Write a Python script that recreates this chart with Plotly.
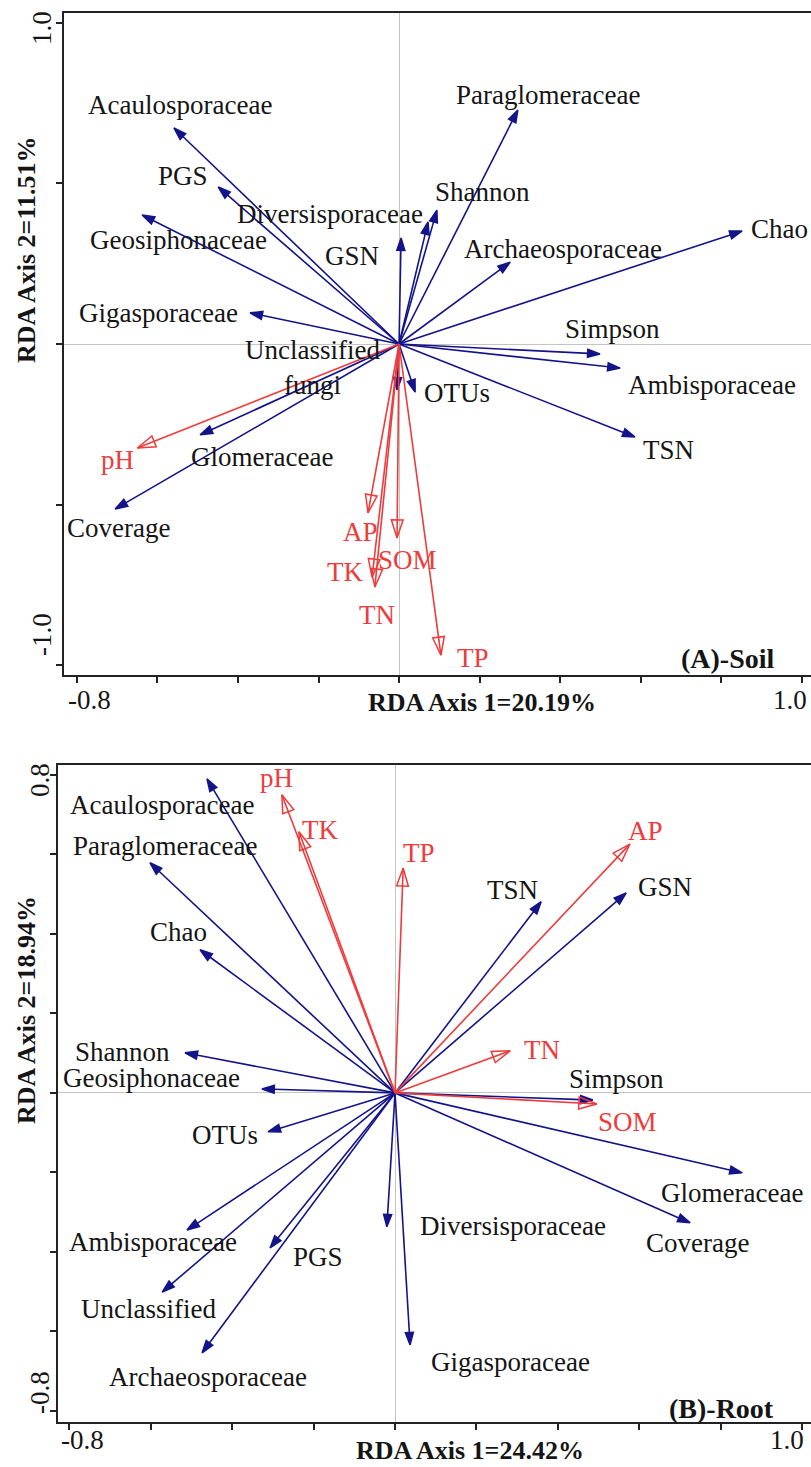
import plotly.graph_objects as go

W, H = 811, 1467
FONT = "Liberation Serif, Times New Roman, serif"
BLUE = "#14148a"
RED = "#ee3b3b"
INK = "#151515"

# ---------------- Panel A (Soil) data ----------------
A_species = ["Acaulosporaceae", "Paraglomeraceae", "PGS", "Geosiphonaceae",
             "Diversisporaceae", "Shannon", "GSN", "Archaeosporaceae", "Chao",
             "Gigasporaceae", "Simpson", "Ambisporaceae", "OTUs",
             "Unclassified<br>fungi", "TSN", "Glomeraceae", "Coverage"]
A_species_x = [-0.559, 0.295, -0.449, -0.638, 0.072, 0.094, 0.005, 0.276, 0.852,
               -0.370, 0.499, 0.549, 0.040, -0.005, 0.586, -0.494, -0.705]
A_species_y = [0.673, 0.729, 0.489, 0.402, 0.380, 0.417, 0.330, 0.255, 0.352,
               0.097, -0.031, -0.075, -0.150, -0.143, -0.290, -0.283, -0.514]
A_env = ["pH", "AP", "SOM", "TK", "TN", "TP"]
A_env_x = [-0.650, -0.077, -0.005, -0.067, -0.060, 0.104]
A_env_y = [-0.324, -0.526, -0.604, -0.726, -0.757, -0.969]
A_x_ticklabels = ["-0.8", "1.0"]
A_y_ticklabels = ["1.0", "-1.0"]
A_xtitle = "RDA Axis 1=20.19%"
A_ytitle = "RDA Axis 2=11.51%"
A_panel = "(A)-Soil"

# ---------------- Panel B (Root) data ----------------
B_species = ["Acaulosporaceae", "Paraglomeraceae", "Chao", "Shannon",
             "Geosiphonaceae", "OTUs", "Ambisporaceae", "PGS", "Unclassified",
             "Archaeosporaceae", "Diversisporaceae", "Gigasporaceae", "TSN",
             "GSN", "Simpson", "Glomeraceae", "Coverage"]
B_species_x = [-0.462, -0.602, -0.479, -0.516, -0.327, -0.312, -0.511, -0.307,
               -0.572, -0.474, -0.020, 0.037, 0.359, 0.568, 0.486, 0.853, 0.725]
B_species_y = [0.790, 0.579, 0.360, 0.101, 0.010, -0.098, -0.345, -0.390,
               -0.501, -0.654, -0.337, -0.634, 0.481, 0.503, -0.018, -0.201, -0.327]
B_env = ["pH", "TK", "TP", "AP", "TN", "SOM"]
B_env_x = [-0.278, -0.236, 0.020, 0.577, 0.283, 0.496]
B_env_y = [0.750, 0.657, 0.566, 0.626, 0.106, -0.028]
B_x_ticklabels = ["-0.8", "1.0"]
B_y_ticklabels = ["0.8", "-0.8"]
B_xtitle = "RDA Axis 1=24.42%"
B_ytitle = "RDA Axis 2=18.94%"
B_panel = "(B)-Root"

# ---------------- label offsets (pixels, relative to arrow tip) ----------------
A_species_off = [(6, -23), (30, -15), (-35, -11), (36, 25), (-98, -8), (46, -18),
                 (-49, 18), (53, -13), (37, -2), (-92, 0), (13, -25), (92, 17),
                 (42, 1), (-85, -22), (33, 13), (62, 22), (3, 19)]
A_env_off = [(-20, 12), (-8, 19), (10, 22), (-27, -5), (2, 28), (32, 3)]
B_species_off = [(-45, 26), (15, -17), (-22, -18), (-62, -1), (-110, -11),
                 (-43, 3), (-34, 12), (48, 9), (-14, 17), (6, 24), (126, -1),
                 (100, 17), (-29, -12), (39, -6), (24, -21), (-10, 20), (7, 20)]
B_env_off = [(-5, -17), (21, -2), (16, -15), (16, -13), (32, -1), (31, 18)]

fig = go.Figure()
annotations = []


def px(xp, yp):
    return xp / W, 1 - yp / H


def add_arrows(names, xs, ys, offs, color, symbol, size, xa, ya, txtcolor):
    for n, x, y, (dx, dy) in zip(names, xs, ys, offs):
        fig.add_trace(go.Scatter(
            x=[0, x], y=[0, y], mode="lines+markers",
            line=dict(color=color, width=1.6),
            marker=dict(symbol=symbol, size=[0, size], angleref="previous",
                        color=color, opacity=1,
                        line=dict(color=color, width=1.5)),
            xaxis=xa, yaxis=ya, showlegend=False, hoverinfo="skip",
            cliponaxis=False))
        annotations.append(dict(
            x=x, y=y, xref=xa, yref=ya, text=n,
            showarrow=False, xshift=dx, yshift=-dy, xanchor="center",
            yanchor="middle", align="center",
            font=dict(family=FONT, size=27, color=txtcolor)))


add_arrows(A_species, A_species_x, A_species_y, A_species_off, BLUE, "arrow", 13, "x", "y", INK)
add_arrows(A_env, A_env_x, A_env_y, A_env_off, RED, "arrow-open", 19, "x", "y", RED)
add_arrows(B_species, B_species_x, B_species_y, B_species_off, BLUE, "arrow", 13, "x2", "y2", INK)
add_arrows(B_env, B_env_x, B_env_y, B_env_off, RED, "arrow-open", 19, "x2", "y2", RED)


def text_px(t, xp, yp, size=27, bold=False, angle=0):
    xx, yy = px(xp, yp)
    annotations.append(dict(
        x=xx, y=yy, xref="paper", yref="paper",
        text=f"<b>{t}</b>" if bold else t, showarrow=False,
        xanchor="center", yanchor="middle", textangle=angle,
        font=dict(family=FONT, size=size, color=INK)))


# axis tick labels and titles, panel A
text_px(A_x_ticklabels[0], 89, 700)
text_px(A_x_ticklabels[1], 790, 700)
text_px(A_xtitle, 482, 703, size=26, bold=True)
text_px(A_y_ticklabels[0], 42, 28, angle=-90)
text_px(A_y_ticklabels[1], 42, 635, angle=-90)
text_px(A_ytitle, 27, 250, size=26, bold=True, angle=-90)
text_px(A_panel, 728, 658, size=28, bold=True)

# panel B
text_px(B_x_ticklabels[0], 82, 1440)
text_px(B_x_ticklabels[1], 787, 1440)
text_px(B_xtitle, 470, 1450, size=26, bold=True)
text_px(B_y_ticklabels[0], 40, 780, angle=-90)
text_px(B_y_ticklabels[1], 40, 1393, angle=-90)
text_px(B_ytitle, 27, 1010, size=26, bold=True, angle=-90)
text_px(B_panel, 721, 1408, size=28, bold=True)

A_xticks = [-0.8, -0.6, -0.4, -0.2, 0.0, 0.2, 0.4, 0.6, 0.8, 1.0]
A_yticks = [-1.0, -0.5, 0.0, 0.5, 1.0]
B_xticks = [-0.8, -0.6, -0.4, -0.2, 0.0, 0.2, 0.4, 0.6, 0.8, 1.0]
B_yticks = [-0.8, -0.6, -0.4, -0.2, 0.0, 0.2, 0.4, 0.6, 0.8]

common = dict(showgrid=False, zeroline=True, zerolinecolor="#c4c4c4",
              zerolinewidth=1, showline=True, linecolor="#222", linewidth=2,
              ticks="outside", ticklen=6, tickwidth=1.5, tickcolor="#222",
              showticklabels=False, fixedrange=True)

fig.update_layout(
    width=W, height=H, margin=dict(l=0, r=0, t=0, b=0),
    paper_bgcolor="white", plot_bgcolor="white", showlegend=False,
    xaxis=dict(domain=[64 / W, 1], range=[-0.832, 1.023], tickvals=A_xticks,
               anchor="y", mirror=True, **common),
    yaxis=dict(domain=[1 - 675 / H, 1 - 13 / H], range=[-1.031, 1.031],
               tickvals=A_yticks, anchor="x", **common),
    xaxis2=dict(domain=[58 / W, 1], range=[-0.828, 1.022], tickvals=B_xticks,
                anchor="y2", mirror=True, **common),
    yaxis2=dict(domain=[1 - 1422 / H, 1 - 765 / H], range=[-0.828, 0.825],
                tickvals=B_yticks, anchor="x2", **common),
    annotations=annotations,
)

fig.write_html(
    "out.html",
    config={"displayModeBar": False},
    post_script="document.body.style.margin='0';document.body.style.overflow='hidden';",
)
